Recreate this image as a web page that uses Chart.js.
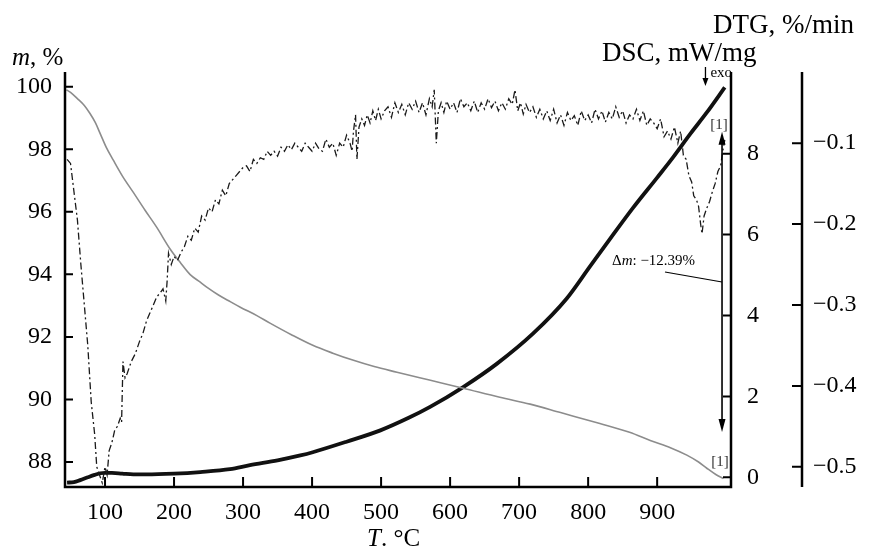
<!DOCTYPE html>
<html>
<head>
<meta charset="utf-8">
<script src="https://cdn.jsdelivr.net/npm/chart.js@4/dist/chart.umd.min.js"></script>
<style>
  body { margin: 0; background: #fff; }
  #wrap { width: 869px; height: 548px; }
</style>
</head>
<body>
<div id="wrap"><canvas id="chart" width="869" height="548"></canvas></div>
<script>
// TG, mass %
var tgTemp = [44, 50, 60, 70, 78, 86, 93, 102, 112, 125, 141, 158, 175, 194, 210, 223, 238, 250, 265, 282, 296, 320, 339, 370, 401, 430, 460, 490, 523, 570, 619, 672, 716, 760, 817, 860, 890, 920, 943, 960, 972, 985, 996];
var tgMass = [99.9, 99.82, 99.62, 99.4, 99.15, 98.85, 98.5, 98.05, 97.65, 97.15, 96.62, 96.05, 95.5, 94.82, 94.35, 94.0, 93.75, 93.55, 93.33, 93.12, 92.95, 92.68, 92.44, 92.07, 91.73, 91.48, 91.25, 91.05, 90.87, 90.62, 90.36, 90.07, 89.85, 89.58, 89.23, 88.95, 88.69, 88.45, 88.22, 88.0, 87.8, 87.6, 87.47];

// DSC, mW/mg
var dscTemp = [45, 55, 64, 75, 85, 93, 100, 110, 125, 141, 160, 200, 238, 281, 310, 350, 383, 401, 450, 499, 540, 571, 619, 668, 720, 769, 803, 832, 865, 900, 923, 948, 972, 998];
var dscValue = [-0.13, -0.12, -0.07, 0.0, 0.06, 0.1, 0.11, 0.11, 0.09, 0.07, 0.07, 0.09, 0.13, 0.2, 0.3, 0.42, 0.54, 0.62, 0.88, 1.16, 1.47, 1.74, 2.23, 2.81, 3.55, 4.42, 5.22, 5.9, 6.66, 7.41, 7.91, 8.49, 9.02, 9.64];

// DTG, %/min
var dtgTemp = [45, 50, 55, 60, 65, 70, 75, 80, 85, 88, 92, 96, 100, 103, 106, 110, 114, 118, 122, 124, 126, 129, 132, 138, 144, 150, 155, 160, 165, 170, 175, 180, 184, 188, 190, 192, 196, 200, 205, 210, 215, 220, 225, 230, 235, 240, 245, 250, 255, 260, 265, 270, 275, 280, 285, 290, 295, 300, 305, 310, 315, 320, 325, 330, 335, 340, 345, 350, 355, 360, 365, 370, 375, 380, 385, 390, 395, 400, 405, 410, 415, 420, 425, 430, 435, 440, 445, 450, 455, 458, 460, 463, 465, 468, 472, 476, 480, 484, 488, 492, 496, 500, 505, 510, 515, 520, 525, 530, 535, 540, 545, 550, 555, 560, 565, 570, 574, 577, 580, 583, 587, 591, 595, 600, 605, 610, 615, 620, 625, 630, 635, 640, 645, 650, 655, 660, 665, 670, 675, 680, 685, 690, 694, 698, 702, 706, 710, 715, 720, 725, 730, 735, 740, 745, 750, 755, 760, 765, 770, 775, 780, 785, 790, 795, 800, 805, 810, 815, 820, 825, 830, 835, 840, 845, 850, 855, 860, 865, 870, 875, 880, 885, 890, 895, 900, 905, 910, 915, 920, 925, 930, 934, 938, 942, 946, 950, 953, 957, 960, 963, 965, 968, 972, 976, 980, 984, 988, 992, 995, 998];
var dtgValue = [-0.12, -0.125, -0.16, -0.195, -0.25, -0.3, -0.35, -0.42, -0.46, -0.5, -0.51, -0.52, -0.5, -0.51, -0.48, -0.47, -0.455, -0.45, -0.44, -0.445, -0.37, -0.39, -0.385, -0.37, -0.36, -0.345, -0.335, -0.32, -0.31, -0.3, -0.29, -0.285, -0.28, -0.295, -0.27, -0.236, -0.25, -0.24, -0.245, -0.235, -0.228, -0.215, -0.22, -0.205, -0.21, -0.19, -0.195, -0.18, -0.185, -0.17, -0.175, -0.158, -0.165, -0.15, -0.145, -0.14, -0.135, -0.13, -0.128, -0.135, -0.12, -0.125, -0.118, -0.12, -0.11, -0.115, -0.11, -0.116, -0.105, -0.11, -0.102, -0.108, -0.1, -0.105, -0.11, -0.1, -0.105, -0.11, -0.1, -0.107, -0.11, -0.095, -0.105, -0.1, -0.115, -0.1, -0.105, -0.09, -0.1, -0.11, -0.085, -0.065, -0.12, -0.08, -0.07, -0.078, -0.065, -0.075, -0.06, -0.072, -0.058, -0.07, -0.06, -0.055, -0.068, -0.05, -0.062, -0.052, -0.065, -0.05, -0.058, -0.048, -0.062, -0.05, -0.065, -0.045, -0.055, -0.034, -0.1, -0.06, -0.05, -0.062, -0.048, -0.058, -0.05, -0.062, -0.045, -0.055, -0.05, -0.06, -0.048, -0.062, -0.05, -0.058, -0.045, -0.056, -0.048, -0.06, -0.05, -0.058, -0.045, -0.052, -0.034, -0.06, -0.05, -0.064, -0.052, -0.062, -0.055, -0.068, -0.058, -0.07, -0.06, -0.072, -0.058, -0.075, -0.065, -0.078, -0.062, -0.072, -0.066, -0.078, -0.06, -0.072, -0.065, -0.075, -0.058, -0.07, -0.06, -0.074, -0.062, -0.07, -0.055, -0.068, -0.06, -0.075, -0.065, -0.07, -0.058, -0.072, -0.06, -0.078, -0.07, -0.075, -0.082, -0.07, -0.092, -0.085, -0.095, -0.08, -0.1, -0.085, -0.115, -0.12, -0.14, -0.148, -0.165, -0.17, -0.178, -0.2, -0.212, -0.19, -0.18, -0.172, -0.16, -0.15, -0.135, -0.128, -0.11, -0.096];

// tick values
var xTicks = [100, 200, 300, 400, 500, 600, 700, 800, 900];
var massTicks = [88, 90, 92, 94, 96, 98, 100];
var dscTicks = [0, 2, 4, 6, 8];
var dtgTicks = [-0.5, -0.4, -0.3, -0.2, -0.1];

var serif = "'Liberation Serif', 'Times New Roman', serif";

function pairs(xs, ys) {
  var out = [];
  for (var i = 0; i < xs.length; i++) out.push({x: xs[i], y: ys[i]});
  return out;
}
function setTicks(list) {
  return function (scale) { scale.ticks = list.map(function (v) { return {value: v}; }); };
}

// axes lines, inward tick marks, titles and annotations
var decor = {
  id: 'decor',
  afterDraw: function (chart) {
    var ctx = chart.ctx, a = chart.chartArea;
    var sx = chart.scales.x, sm = chart.scales.y, sd = chart.scales.y1, st = chart.scales.y2;
    ctx.save();
    ctx.strokeStyle = '#000';
    ctx.fillStyle = '#000';
    ctx.lineWidth = 2.5;
    ctx.beginPath();
    ctx.moveTo(a.left, a.top); ctx.lineTo(a.left, a.bottom);
    ctx.lineTo(a.right, a.bottom); ctx.lineTo(a.right, a.top);
    ctx.stroke();
    ctx.beginPath();
    ctx.moveTo(st.left, a.top); ctx.lineTo(st.left, a.bottom);
    ctx.stroke();

    ctx.lineWidth = 2;
    ctx.beginPath();
    xTicks.forEach(function (v) { var p = sx.getPixelForValue(v); ctx.moveTo(p, a.bottom); ctx.lineTo(p, a.bottom - 10); });
    massTicks.forEach(function (v) { var p = sm.getPixelForValue(v); ctx.moveTo(a.left, p); ctx.lineTo(a.left + 8, p); });
    dscTicks.forEach(function (v) { var p = sd.getPixelForValue(v); ctx.moveTo(a.right, p); ctx.lineTo(a.right - 8, p); });
    dtgTicks.forEach(function (v) { var p = st.getPixelForValue(v); ctx.moveTo(st.left, p); ctx.lineTo(st.left - 10, p); });
    ctx.stroke();

    // axis titles
    ctx.textBaseline = 'alphabetic';
    ctx.textAlign = 'left';
    ctx.font = 'italic 25px ' + serif;
    ctx.fillText('m', 12, 65);
    var w = ctx.measureText('m').width;
    ctx.font = '25px ' + serif;
    ctx.fillText(', %', 12 + w, 65);

    ctx.font = '27px ' + serif;
    ctx.fillText('DSC, mW/mg', 602, 61);
    ctx.fillText('DTG, %/min', 713, 33);

    ctx.font = 'italic 25px ' + serif;
    var tx = 367;
    ctx.fillText('T', tx, 546);
    w = ctx.measureText('T').width;
    ctx.font = '25px ' + serif;
    ctx.fillText('. \u00B0C', tx + w, 546);

    // exo marker
    var ex = sx.getPixelForValue(970);
    ctx.lineWidth = 1.3;
    ctx.beginPath(); ctx.moveTo(ex, a.top - 5); ctx.lineTo(ex, a.top + 8); ctx.stroke();
    ctx.beginPath(); ctx.moveTo(ex - 3, a.top + 6); ctx.lineTo(ex + 3, a.top + 6); ctx.lineTo(ex, a.top + 14); ctx.closePath(); ctx.fill();
    ctx.font = '15px ' + serif;
    ctx.fillText('exo', ex + 5, a.top + 5);

    // mass change double arrow
    var ax = sx.getPixelForValue(994);
    var top = sm.getPixelForValue(98.56), bot = sm.getPixelForValue(88.96);
    ctx.lineWidth = 1.6;
    ctx.beginPath(); ctx.moveTo(ax, top + 8); ctx.lineTo(ax, bot - 8); ctx.stroke();
    ctx.beginPath(); ctx.moveTo(ax, top); ctx.lineTo(ax - 3.5, top + 13); ctx.lineTo(ax + 3.5, top + 13); ctx.closePath(); ctx.fill();
    ctx.beginPath(); ctx.moveTo(ax, bot); ctx.lineTo(ax - 3.5, bot - 13); ctx.lineTo(ax + 3.5, bot - 13); ctx.closePath(); ctx.fill();

    ctx.fillStyle = '#333';
    ctx.font = '15px ' + serif;
    ctx.textAlign = 'center';
    ctx.fillText('[1]', ax - 3, top - 3);
    ctx.fillText('[1]', ax - 2, sm.getPixelForValue(87.75) - 4);

    // delta m label and leader
    ctx.fillStyle = '#000';
    ctx.textAlign = 'left';
    ctx.font = '15px ' + serif;
    ctx.fillText('\u0394', 612, 265);
    w = ctx.measureText('\u0394').width;
    ctx.font = 'italic 15px ' + serif;
    ctx.fillText('m', 612 + w, 265);
    w += ctx.measureText('m').width;
    ctx.font = '15px ' + serif;
    ctx.fillText(': \u221212.39%', 612 + w, 265);
    ctx.lineWidth = 1.2;
    ctx.beginPath(); ctx.moveTo(665, 272); ctx.lineTo(ax, 282); ctx.stroke();
    ctx.restore();
  }
};

var tickFont = {family: serif, size: 24};

new Chart(document.getElementById('chart'), {
  type: 'line',
  data: {
    datasets: [
      {
        label: 'DTG',
        data: pairs(dtgTemp, dtgValue),
        yAxisID: 'y2',
        borderColor: '#1a1a1a',
        borderWidth: 1.3,
        borderDash: [7, 3, 2, 3],
        pointRadius: 0,
        tension: 0
      },
      {
        label: 'TG',
        data: pairs(tgTemp, tgMass),
        yAxisID: 'y',
        borderColor: '#8c8c8c',
        borderWidth: 1.6,
        pointRadius: 0,
        cubicInterpolationMode: 'monotone'
      },
      {
        label: 'DSC',
        data: pairs(dscTemp, dscValue),
        yAxisID: 'y1',
        borderColor: '#111',
        borderWidth: 3.8,
        pointRadius: 0,
        cubicInterpolationMode: 'monotone'
      }
    ]
  },
  options: {
    responsive: false,
    animation: false,
    layout: {padding: {top: 72, left: 0, right: 0, bottom: 0}},
    plugins: {legend: {display: false}, tooltip: {enabled: false}},
    scales: {
      x: {
        type: 'linear',
        min: 42, max: 1007,
        grid: {display: false, drawTicks: false},
        border: {display: false},
        afterBuildTicks: setTicks(xTicks),
        afterFit: function (s) { s.height = 61; },
        ticks: {font: tickFont, color: '#000', padding: 11, maxRotation: 0}
      },
      y: {
        position: 'left',
        min: 87.2, max: 100.47,
        grid: {display: false, drawTicks: false},
        border: {display: false},
        afterBuildTicks: setTicks(massTicks),
        afterFit: function (s) { s.width = 65; },
        ticks: {font: tickFont, color: '#000', padding: 13}
      },
      y1: {
        position: 'right',
        weight: 0,
        min: -0.24, max: 10.02,
        grid: {display: false, drawTicks: false},
        border: {display: false},
        afterBuildTicks: setTicks(dscTicks),
        afterFit: function (s) { s.width = 71; },
        ticks: {font: tickFont, color: '#000', padding: 16}
      },
      y2: {
        position: 'right',
        weight: 1,
        min: -0.525, max: -0.012,
        grid: {display: false, drawTicks: false},
        border: {display: false},
        afterBuildTicks: setTicks(dtgTicks),
        afterFit: function (s) { s.width = 67; },
        ticks: {
          font: tickFont, color: '#000', padding: 11,
          callback: function (v) { return '\u2212' + Math.abs(v).toFixed(1); }
        }
      }
    }
  },
  plugins: [decor]
});
</script>
</body>
</html>
